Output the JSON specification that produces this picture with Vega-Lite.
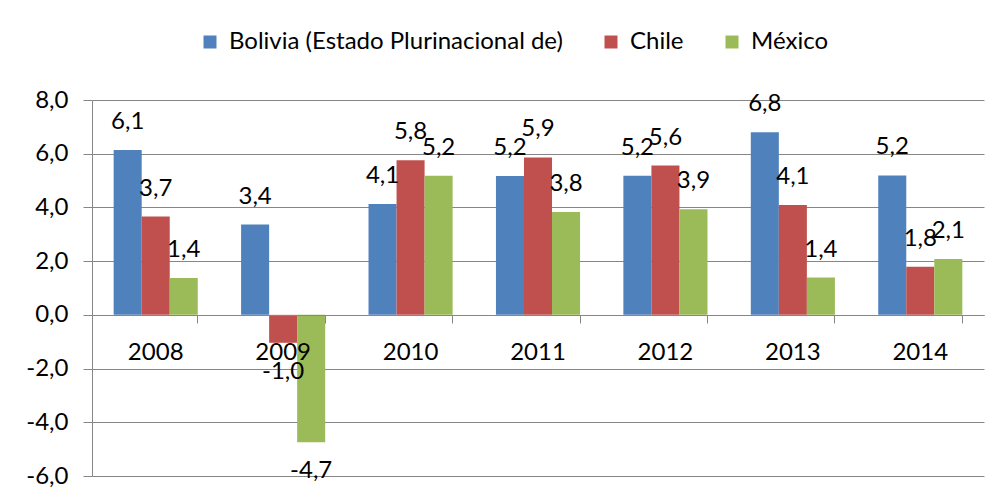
{
  "$schema": "https://vega.github.io/schema/vega-lite/v6.json",
  "width": 892,
  "height": 376,
  "autosize": "none",
  "padding": {"left": 92, "top": 100, "right": 19, "bottom": 26},
  "background": "white",
  "config": {
    "locale": {"number": {"decimal": ",", "thousands": ".", "grouping": [3], "currency": ["", ""], "minus": "-"}},
    "font": "Lato",
    "view": {"stroke": null},
    "axis": {"labelFont": "Lato", "labelFontSize": 24, "labelColor": "#000000"}
  },
  "data": {
    "values": [
      {"year": "2008", "country": "Bolivia (Estado Plurinacional de)", "value": 6.14},
      {"year": "2009", "country": "Bolivia (Estado Plurinacional de)", "value": 3.36},
      {"year": "2010", "country": "Bolivia (Estado Plurinacional de)", "value": 4.13},
      {"year": "2011", "country": "Bolivia (Estado Plurinacional de)", "value": 5.17},
      {"year": "2012", "country": "Bolivia (Estado Plurinacional de)", "value": 5.18},
      {"year": "2013", "country": "Bolivia (Estado Plurinacional de)", "value": 6.8},
      {"year": "2014", "country": "Bolivia (Estado Plurinacional de)", "value": 5.19},
      {"year": "2008", "country": "Chile", "value": 3.66},
      {"year": "2009", "country": "Chile", "value": -1.04},
      {"year": "2010", "country": "Chile", "value": 5.76},
      {"year": "2011", "country": "Chile", "value": 5.86},
      {"year": "2012", "country": "Chile", "value": 5.56},
      {"year": "2013", "country": "Chile", "value": 4.09},
      {"year": "2014", "country": "Chile", "value": 1.79},
      {"year": "2008", "country": "México", "value": 1.37},
      {"year": "2009", "country": "México", "value": -4.74},
      {"year": "2010", "country": "México", "value": 5.18},
      {"year": "2011", "country": "México", "value": 3.83},
      {"year": "2012", "country": "México", "value": 3.93},
      {"year": "2013", "country": "México", "value": 1.39},
      {"year": "2014", "country": "México", "value": 2.08}
    ]
  },
  "encoding": {
    "xOffset": {"field": "country", "type": "nominal", "sort": ["Bolivia (Estado Plurinacional de)", "Chile", "México"], "scale": {"paddingInner": 0, "paddingOuter": 0}}
  },
  "layer": [
    {
      "mark": {"type": "bar"},
      "encoding": {
        "x": {
          "field": "year", "type": "nominal",
          "scale": {"paddingInner": 0.34, "paddingOuter": 0.17},
          "axis": {"orient": "bottom", "offset": -161, "title": null, "labelAngle": 0, "ticks": false, "labelPadding": 25, "domain": true, "domainColor": "#868686", "domainWidth": 1, "zindex": 1}
        },
        "y": {
          "field": "value", "type": "quantitative",
          "scale": {"domain": [-6, 8], "nice": false, "zero": false},
          "axis": {"title": null, "values": [-6, -4, -2, 0, 2, 4, 6, 8], "format": ".1f", "grid": true, "gridColor": "#868686", "domainColor": "#868686", "tickColor": "#868686", "tickSize": 9, "labelPadding": 15}
        },
        "color": {
          "field": "country", "type": "nominal",
          "scale": {"domain": ["Bolivia (Estado Plurinacional de)", "Chile", "México"], "range": ["#4F81BD", "#C0504D", "#9BBB59"]},
          "legend": {"orient": "none", "legendX": 106, "legendY": -70, "direction": "horizontal", "title": null, "symbolType": "square", "symbolSize": 169, "symbolStrokeWidth": 0, "labelFontSize": 24, "labelFont": "Lato", "labelColor": "#000000", "labelLimit": 0, "columnPadding": 36, "labelOffset": 7}
        }
      }
    },
    {
      "transform": [{"filter": "datum.value >= 0"}],
      "mark": {"type": "text", "baseline": "middle", "align": "center", "dy": -28, "fontSize": 24, "font": "Lato", "color": "#000000"},
      "encoding": {
        "x": {"field": "year", "type": "nominal", "axis": {"orient": "bottom", "offset": -161, "bandPosition": 1, "labels": false, "domain": false, "ticks": true, "tickSize": 8, "tickColor": "#868686", "title": null, "grid": false, "zindex": 1}},
        "y": {"field": "value", "type": "quantitative"},
        "text": {"field": "value", "type": "quantitative", "format": ".1f"}
      }
    },
    {
      "transform": [{"filter": "datum.value < 0"}],
      "mark": {"type": "text", "baseline": "middle", "align": "center", "dy": 29, "fontSize": 24, "font": "Lato", "color": "#000000"},
      "encoding": {
        "x": {"field": "year", "type": "nominal", "axis": null},
        "y": {"field": "value", "type": "quantitative"},
        "text": {"field": "value", "type": "quantitative", "format": ".1f"}
      }
    }
  ],
  "resolve": {"axis": {"x": "independent"}}
}
